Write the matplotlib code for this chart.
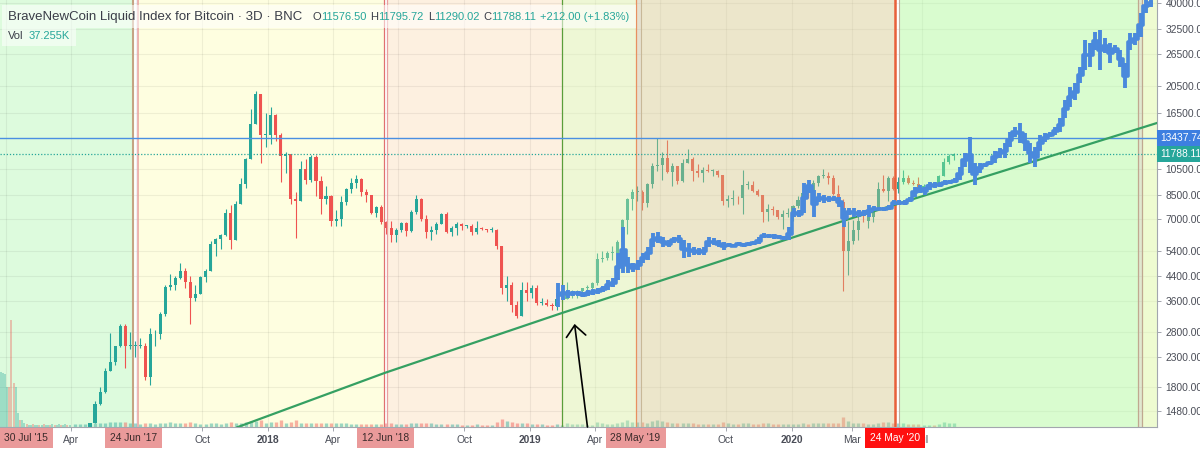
import numpy as np
import pandas as pd
import matplotlib
matplotlib.use("Agg")
import matplotlib.pyplot as plt
import matplotlib.dates as mdates
import matplotlib.transforms as mtransforms
from matplotlib.patches import Rectangle
from matplotlib.ticker import FixedLocator, FixedFormatter, NullLocator

W, H = 1200, 449
FONT = "Liberation Sans"
plt.rcParams["font.family"] = [FONT, "DejaVu Sans"]
UP, DOWN = "#26a69a", "#ef5350"
DARK = "#3a3d48"
AXTXT = "#4a4d57"

# ---------------- data ----------------
# weekly candles, weeks starting 2017-04-03
first_open = 1080
closes = [
    # 2017
    1180, 1180, 1250, 1340, 1570, 1730, 2050, 2200, 2500, 2950, 2500, 2500, 2500,
    2500, 1950, 2750, 2750, 3250, 4050, 4100, 4350, 4600, 4200, 3700, 3800, 4380,
    4600, 5700, 5950, 6150, 7350, 5900, 7900, 9300, 11300, 15000, 19200, 13800, 13800,
    # 2018
    16200, 13800, 11600, 11800, 8200, 8100, 10500, 9600, 11500, 9500, 8200, 8400, 6900,
    7000, 8000, 8900, 9350, 9650, 8700, 8500, 7350, 7700, 6800, 6500, 6150, 6400,
    6750, 6350, 7400, 8200, 7000, 6300, 6400, 6700, 7300, 6300, 6500, 6700, 6600,
    6600, 6300, 6500, 6450, 6400, 6400, 5600, 4000, 4100, 3500, 3200, 3950, 3850, 4000,
    # 2019
    3550, 3550, 3500, 3450, 3650, 3650, 3850, 3850, 3900, 4000, 4000, 4150, 5050,
    5100, 5300, 5300, 5800, 6950, 8200, 8700, 8700, 7950, 9300, 10700, 10800, 11450,
    10200, 10700, 9500, 11000, 11300, 10300, 10100, 10400, 10300, 10300, 10000, 8050, 8200,
    8300, 8250, 9200, 9200, 8750, 8500, 7400, 7550, 7500, 7100, 7300, 7300, 7750,
    # 2020
    8150, 8650, 8600, 9350, 9900, 9900, 9700, 8550, 8000, 5400, 5850, 6400, 6900,
    6850, 7100, 7700, 8900, 8750, 9700, 8900, 9450, 9750, 9350, 9300, 9000, 9100,
    9250, 9200, 9900, 11100, 11600, 11788,
]
highs = [
    1210, 1210, 1260, 1350, 1600, 1800, 2100, 2780, 2500, 2980, 2980, 2800, 2600,
    2680, 2570, 2900, 2850, 3300, 4100, 4480, 4400, 4900, 4700, 4400, 4100, 4400,
    4650, 5850, 6000, 6200, 7600, 7800, 8100, 9700, 11400, 17000, 19600, 19200, 16500,
    17200, 16300, 14000, 12000, 11800, 8700, 11200, 11300, 11700, 11700, 9900, 9100, 8500,
    7500, 8400, 9000, 9700, 9950, 9700, 8900, 8500, 7750, 7800, 6900, 6850, 6500,
    6800, 6800, 7500, 8500, 8300, 7200, 6600, 6800, 7350, 7400, 6600, 6800, 6750,
    6650, 6700, 6900, 6550, 6450, 6550, 6450, 5600, 4400, 4200, 3600, 4200, 4200, 4100,
    4100, 3700, 3650, 3550, 3700, 3700, 4200, 3950, 3950, 4000, 4100, 4200, 5300,
    5400, 5400, 5600, 5900, 7000, 8300, 8900, 9100, 8800, 9350, 11000, 13450, 12000,
    13200, 11000, 10700, 11300, 12300, 11500, 10900, 10600, 10900, 10500, 10400, 10000, 8500,
    8800, 8400, 10400, 9500, 9500, 8900, 8500, 7900, 7750, 7500, 7500, 7650, 7800,
    8400, 9200, 8700, 9600, 9950, 10500, 10200, 9950, 9200, 8200, 6900, 6950, 7200,
    7450, 7300, 7750, 9450, 10000, 9900, 9900, 9800, 10400, 10000, 9600, 9800, 9300,
    9450, 9300, 9950, 11450, 11800, 11900,
]
lows = [
    1080, 1160, 1170, 1240, 1340, 1560, 1710, 2040, 2150, 2480, 2100, 2450, 2300,
    2470, 1900, 1830, 2500, 2650, 3200, 3950, 3950, 4300, 4000, 2980, 3600, 3800,
    4200, 4600, 5200, 5500, 6100, 5500, 5900, 7900, 9000, 11300, 15000, 11000, 12500,
    12800, 13100, 9400, 10100, 7900, 6000, 8100, 9300, 9400, 8400, 7300, 7900, 6600,
    6600, 6600, 7800, 8600, 9000, 8400, 8000, 7300, 7100, 6700, 6200, 5800, 5800,
    6300, 6100, 6300, 7300, 6900, 6000, 5900, 6200, 6700, 6250, 6100, 6150, 6400,
    6500, 6150, 6200, 6400, 6300, 6300, 5500, 3800, 3600, 3300, 3150, 3200, 3600, 3700,
    3500, 3500, 3450, 3350, 3350, 3550, 3650, 3700, 3700, 3800, 3900, 3950, 4100,
    4950, 5000, 5000, 5300, 5700, 6200, 7500, 8100, 7500, 7700, 9000, 10300, 9600,
    10100, 9100, 9300, 9400, 11000, 9500, 9800, 9400, 10200, 9900, 9800, 7800, 7700,
    7800, 7900, 7300, 8900, 8700, 8400, 6800, 6900, 7200, 7000, 6450, 7100, 6900,
    7650, 8100, 8250, 8550, 9100, 9700, 9300, 8450, 7900, 3900, 4450, 5700, 5900,
    6800, 6500, 6800, 7700, 8700, 8100, 8800, 8650, 9300, 9250, 9200, 8900, 8950,
    9050, 9050, 9150, 9900, 10900, 11290,
]
volume_k = [
    30, 30, 32, 35, 40, 45, 50, 60, 55, 55, 60, 45, 40, 35, 50, 45, 35, 40, 50, 55,
    40, 45, 50, 60, 40, 35, 35, 45, 40, 35, 45, 55, 40, 45, 60, 70, 70, 75, 50,
    60, 55, 80, 50, 55, 75, 50, 45, 40, 45, 50, 40, 45, 40, 40, 40, 35, 35, 35, 35,
    30, 30, 35, 40, 40, 35, 30, 30, 40, 45, 40, 45, 40, 30, 30, 35, 35, 30, 25, 25,
    25, 30, 25, 25, 25, 60, 90, 70, 55, 50, 50, 45, 35,
    35, 30, 28, 28, 30, 28, 40, 35, 30, 30, 28, 28, 55, 45, 35, 35, 40, 60, 80, 60,
    55, 55, 50, 70, 80, 70, 60, 50, 40, 45, 45, 40, 35, 35, 35, 30, 30, 55, 40, 35,
    30, 50, 40, 35, 30, 45, 40, 30, 30, 35, 30, 30,
    35, 45, 35, 40, 45, 45, 40, 50, 45, 110, 70, 50, 45, 40, 35, 35, 50, 60, 55, 45,
    40, 40, 35, 30, 30, 25, 25, 25, 35, 55, 50, 40,
]
# early 3-day volume bars (Dec 2016 - Mar 2017), price candles there are off-chart
early_vol_k = [620, 610, 600, 450, 450, 1200, 500, 450, 160, 80, 80, 45, 30, 28, 25, 30, 25,
               25, 28, 25, 30, 25, 28, 25, 30, 28, 25, 30, 25, 28, 30, 25, 28]
early_vol_up = [1, 1, 1, 1, 0, 0, 0, 1, 1, 0, 1, 1, 0, 1, 1, 0, 1,
                1, 0, 1, 0, 1, 1, 0, 1, 0, 1, 1, 0, 1, 1, 0, 1]

# projected bars pattern (blue), weekly from 2019-02-09
blue_hi = [4160, 4100, 3940, 3910, 3910, 3870, 3940, 3970, 4000, 4070,
           4260, 4330, 5300, 6540, 5130, 4890, 5020, 5300, 5570, 6240,
           6280, 6040, 5890, 6040, 6140, 5890, 5750, 5570, 5520, 5570,
           6040, 5990, 5890, 5800, 5750, 5700, 5780, 5740, 5780, 5830,
           6040, 6240, 6200, 6200, 6150, 6100, 6540, 7630, 7510, 9340,
           9580, 8820, 8615, 8500, 8420, 8420, 8340, 7630, 7630, 7630,
           7510, 7510, 7820, 7760, 7700, 7700, 7820, 8140, 8140, 8140,
           8340, 9040, 9190, 9040, 9420, 9420, 9420, 9580, 9580, 9700,
           10630, 11920, 13540, 10980, 10980, 10980, 11200, 12150, 12390, 12900,
           14080, 14670, 15150, 13990, 12900, 12500, 13770, 13990, 14080, 14670,
           15740, 18250, 20260, 20960, 23780, 29670, 28950, 31570, 32050, 30150,
           28950, 28480, 27360, 24630, 31390, 31390, 36900, 40990, 41500]
blue_lo = [3430, 3630, 3690, 3750, 3750, 3720, 3750, 3780, 3810, 3870,
           3940, 4040, 4260, 4510, 4510, 4550, 4630, 4890, 5020, 5570,
           5750, 5570, 5570, 5750, 5750, 5100, 5130, 5220, 5220, 5220,
           5570, 5660, 5570, 5440, 5570, 5560, 5600, 5570, 5620, 5660,
           5700, 5990, 5990, 5950, 5950, 5900, 5890, 7100, 7100, 7330,
           8615, 7100, 8010, 7950, 8010, 8060, 7700, 6540, 7210, 7100,
           7100, 7150, 7100, 7450, 7510, 7450, 7510, 7820, 7820, 7820,
           8010, 8340, 8615, 8500, 8820, 8970, 9040, 9190, 9250, 9340,
           9576, 10630, 10130, 9190, 10130, 10630, 10800, 10980, 11430, 11440,
           12500, 13540, 12900, 12150, 10980, 10630, 12150, 13000, 13540, 13770,
           14080, 15740, 17250, 18250, 20960, 23250, 23780, 27360, 23250, 26700,
           24700, 26700, 23780, 20130, 27360, 28480, 30390, 36900, 38720]

# trend line points and arrow
trend_dates = ["2017-11-19", "2018-06-12", "2019-02-14", "2020-03-21", "2021-05-24"]
trend_prices = [1300, 2014, 3267, 6988, 15176]
arrow_tip = ("2019-03-04", 2993)
arrow_tail = ("2019-03-22", 1302)

level_blue = 13437.74
level_last = 11788.11

# shaded time zones (last flag: drawn as a translucent layer above the candles)
zones = [("2016-12-01", "2017-06-26", "#ddfbdd", False),
         ("2017-07-04", "2018-06-12", "#fefee0", False),
         ("2018-06-15", "2019-02-14", "#fdf0e0", False),
         ("2019-02-14", "2019-05-28", "#eef7d5", True),
         ("2019-05-28", "2019-06-04", "#e6e2d0", True),
         ("2019-06-04", "2020-05-24", "#ece6cb", True),
         ("2020-05-30", "2021-04-27", "#d9fccf", True),
         ("2021-04-27", "2021-05-03", "#e2e8d0", True),
         ("2021-05-03", "2021-06-30", "#eefbd2", True)]
zone_lines = [("2017-06-26", "#c4a484", 1.5), ("2017-07-04", "#e8a0a0", 1.1),
              ("2018-06-12", "#e07070", 0.9), ("2018-06-15", "#e8a0a0", 0.9),
              ("2019-02-14", "#5a9e3a", 0.9), ("2019-05-28", "#e89060", 0.9),
              ("2019-06-04", "#c8b898", 0.8), ("2020-05-24", "#e8603a", 1.8),
              ("2020-05-30", "#c0b0a0", 0.8), ("2021-04-27", "#c0a890", 0.9),
              ("2021-05-03", "#c0a890", 0.9)]

ytick_vals = [1480, 1800, 2300, 2800, 3600, 4400, 5400, 7000, 8500, 10500,
              16500, 20500, 26500, 32500, 40000]
xtick_dates = ["2017-01-01", "2017-04-01", "2017-07-01", "2017-10-01", "2018-01-01",
               "2018-04-01", "2018-07-01", "2018-10-01", "2019-01-01", "2019-04-01",
               "2019-07-01", "2019-10-01", "2020-01-01", "2020-03-25", "2020-07-01"]
# labels hidden under the date markers are left blank
xtick_labels = ["", "Apr", "", "Oct", "2018", "Apr", "", "Oct", "2019", "Apr",
                "Jul", "Oct", "2020", "Mar", "Jul"]
date_marks = [("24 Jun '17", "2017-06-27", "#ea9a9a", "#3a2a2a"),
              ("12 Jun '18", "2018-06-13", "#ea9a9a", "#3a2a2a"),
              ("28 May '19", "2019-05-28", "#ea9a9a", "#3a2a2a"),
              ("24 May '20", "2020-05-24", "#ff1010", "white")]

# ---------------- figure ----------------
def dn(s):
    return mdates.date2num(pd.to_datetime(s))

fig = plt.figure(figsize=(W / 100, H / 100), dpi=100)
ax = fig.add_axes([0, 22 / H, 1157 / W, 427 / H])
ax.set_yscale("log")

cdates = mdates.date2num(pd.date_range("2017-04-03", periods=len(closes), freq="7D")) + 3.5
c = np.array(closes, float)
hi = np.array(highs, float)
lo = np.array(lows, float)
o = np.r_[first_open, c[:-1]]
up = c >= o
cols = np.where(up, UP, DOWN)

for s, e, col, over in zones:
    if not over:
        ax.axvspan(dn(s), dn(e), color=col, lw=0, zorder=0.2)

ax.vlines(cdates, lo, hi, colors=cols, lw=0.8, zorder=2)
ax.bar(cdates, np.maximum(np.abs(c - o), c * 0.006), bottom=np.minimum(o, c),
       width=4.3, color=cols, lw=0, zorder=2)

# volume in axes fraction (11.24K per pixel)
vt = ax.get_xaxis_transform()
vscale = 427 * 11.24
ax.vlines(cdates, 0, np.array(volume_k) / vscale, colors=cols, lw=2.4, alpha=0.45,
          transform=vt, zorder=1.5)
edates = mdates.date2num(pd.date_range("2016-12-24", periods=len(early_vol_k), freq="3D"))
ecols = [UP if u else DOWN for u in early_vol_up]
ax.vlines(edates, 0, np.array(early_vol_k) / vscale, colors=ecols, lw=1.1, alpha=0.45,
          transform=vt, zorder=1.5)

# overlay zones (make candles below look pastel)
a = 0.4
for s, e, col, over in zones:
    if over:
        rgb = np.array(matplotlib.colors.to_rgb(col))
        base = np.clip((rgb - (1 - a)) / a, 0, 1)
        ax.axvspan(dn(s), dn(e), color=base, alpha=a, lw=0, zorder=2.3)

for d, col, lw in zone_lines:
    ax.axvline(dn(d), color=col, lw=lw, zorder=2.4)

ax.axhline(level_blue, color="#4a8fe2", lw=1.0, zorder=2.6)
ax.axhline(level_last, color="#26a69a", lw=0.9, ls=(0, (1, 1.5)), zorder=2.6)

ax.plot([dn(d) for d in trend_dates], trend_prices, color="#35a062", lw=1.6, zorder=2.8)

bdates = mdates.date2num(pd.date_range("2019-02-09", periods=len(blue_hi), freq="7D"))
bh = np.array(blue_hi, float)
bl = np.array(blue_lo, float)
ax.vlines(bdates, bl, bh, colors="#4a89dc", lw=2.8, zorder=3)
ax.plot(bdates, np.sqrt(bh * bl), color="#4a89dc", lw=2.6, drawstyle="steps-mid", zorder=3)

ax.annotate("", xy=(dn(arrow_tip[0]), arrow_tip[1]), xytext=(dn(arrow_tail[0]), arrow_tail[1]),
            arrowprops=dict(arrowstyle="->,head_length=0.4,head_width=0.35", color="black",
                            lw=1.2, shrinkA=0, shrinkB=0, mutation_scale=20),
            zorder=6)

ax.set_xlim(dn("2016-12-23"), dn("2021-05-24"))
ax.set_ylim(1302, 40980)

# axes styling
ax.grid(True, color="black", alpha=0.06, lw=0.8)
ax.set_axisbelow(True)
for sp in ["top", "left"]:
    ax.spines[sp].set_visible(False)
for sp in ["right", "bottom"]:
    ax.spines[sp].set_color("#a3a6ae")
    ax.spines[sp].set_linewidth(0.8)

ax.yaxis.tick_right()
ax.yaxis.set_major_locator(FixedLocator(ytick_vals))
ax.yaxis.set_major_formatter(FixedFormatter([f"{v:.2f}" for v in ytick_vals]))
ax.yaxis.set_minor_locator(NullLocator())
ax.tick_params(axis="y", which="major", length=3, width=0.7, color="#a3a6ae", pad=3,
               labelsize=7.4, labelcolor=AXTXT)

ax.set_xticks([dn(d) for d in xtick_dates], labels=xtick_labels)
ax.xaxis.set_minor_locator(NullLocator())
ax.tick_params(axis="x", length=3, width=0.7, color="#a3a6ae", pad=3, labelsize=7.4,
               labelcolor=AXTXT)
for t in ax.get_xticklabels():
    if t.get_text().isdigit():
        t.set_fontweight("bold")

# date markers on the time axis
ax.text(26 / 1157, -11 / 427, "30 Jul '15", transform=ax.transAxes, ha="center", va="center",
        fontsize=7.4, color="#3a2a2a", clip_on=False, zorder=10,
        bbox=dict(boxstyle="square,pad=0.48", fc="#ea9a9a", ec="none"))
for lab, d, fc, tc in date_marks:
    ax.text(dn(d), -11 / 427, lab, transform=vt, ha="center", va="center", fontsize=7.4,
            color=tc, clip_on=False, zorder=10,
            bbox=dict(boxstyle="square,pad=0.48", fc=fc, ec="none"))

# price tags on the right axis
yt = mtransforms.blended_transform_factory(ax.transAxes, ax.transData)
for val, fc in [(level_blue, "#3d7fe0"), (level_last, "#26a69a")]:
    ax.text(1 + 3 / 1157, val, f"{val:.2f}", transform=yt, ha="left", va="center",
            fontsize=7.4, color="white", clip_on=False, zorder=10,
            bbox=dict(boxstyle="square,pad=0.3", fc=fc, ec="none"))

# header legend
renderer = fig.canvas.get_renderer()
hdr_open, hdr_high, hdr_low, hdr_close = 11576.50, 11795.72, 11290.02, 11788.11
hdr_chg, hdr_pct = 212.00, 1.83
hdr_vol = "37.255K"


def write_parts(parts, x_px, y_px):
    x = x_px
    for txt, col, size, gap in parts:
        t = fig.text(x / W, 1 - y_px / H, txt, color=col, fontsize=size,
                     va="center", ha="left", zorder=6)
        x += t.get_window_extent(renderer).width + gap
    return x


VS = 8.0
line1 = [("BraveNewCoin Liquid Index for Bitcoin · 3D · BNC", DARK, 9.5, 10),
         ("O", DARK, VS, 0), (f"{hdr_open:.2f}", UP, VS, 4),
         ("H", DARK, VS, 0), (f"{hdr_high:.2f}", UP, VS, 4),
         ("L", DARK, VS, 0), (f"{hdr_low:.2f}", UP, VS, 4),
         ("C", DARK, VS, 0), (f"{hdr_close:.2f}", UP, VS, 4),
         (f"+{hdr_chg:.2f} (+{hdr_pct:.2f}%)", UP, VS, 0)]
end1 = write_parts(line1, 8, 17)
end2 = write_parts([("Vol", DARK, VS, 5), (hdr_vol, UP, VS, 0)], 8, 36)
fig.add_artist(Rectangle((2 / W, 1 - 28 / H), (end1 + 4) / W, 23 / H, transform=fig.transFigure,
                         fc="white", ec="none", alpha=0.55, zorder=5))
fig.add_artist(Rectangle((2 / W, 1 - 46 / H), (end2 + 4) / W, 18 / H, transform=fig.transFigure,
                         fc="white", ec="none", alpha=0.55, zorder=5))

fig.savefig("out.png", dpi=100)
